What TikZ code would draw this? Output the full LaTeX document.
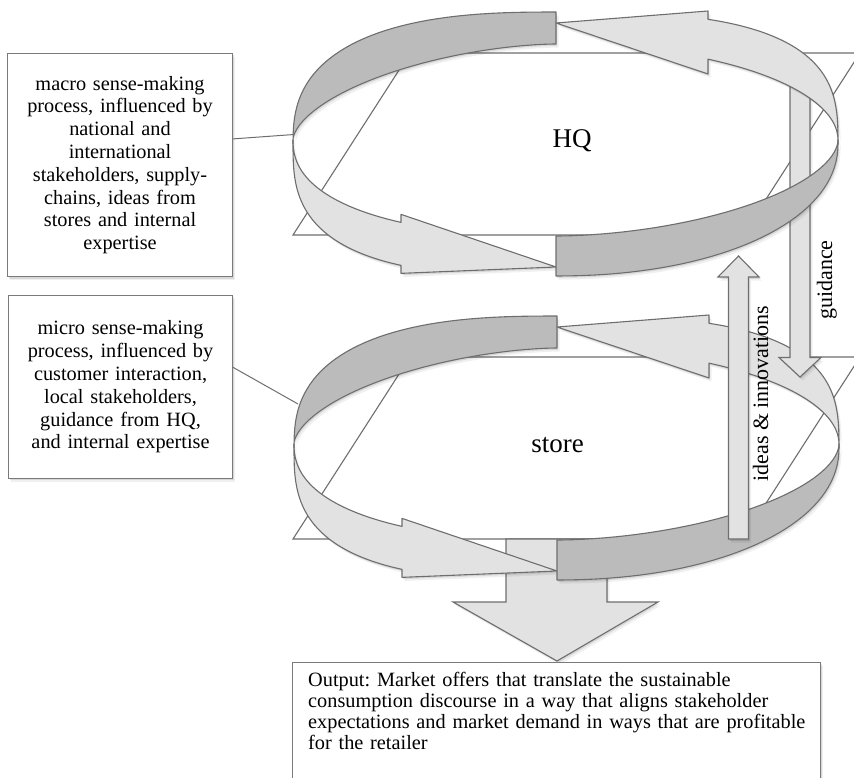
\documentclass[tikz,border=0pt]{standalone}
\usepackage{fontspec}
\setmainfont{Liberation Serif}
\usetikzlibrary{shadows}
\frenchspacing
\definecolor{lightf}{HTML}{E2E2E2}
\definecolor{darkf}{HTML}{BBBBBB}
\definecolor{edge}{HTML}{6E6E6E}
\definecolor{boxc}{HTML}{7A7A7A}
\newcommand\ringbody{%
  % back, left part (dark)
  \filldraw[band,fill=darkf]
    plot[pl,domain=90:180] ({556+263*sp(cos(\t),0.769)},{144-132*sp(sin(\t),0.769)})
    -- plot[pl,domain=180:90] ({556+263*sp(cos(\t),1.176)},{140-96*sp(sin(\t),1.176)}) -- cycle;
  % back, right part with head (light)
  \filldraw[band,fill=lightf]
    plot[pl,domain=0:\tBo] ({556+282*sp(cos(\t),0.667)},{144-132*sp(sin(\t),0.667)})
    -- (708,11) -- (556,23) -- (708,74)
    -- plot[pl,domain=\tBi:0] ({556+282*sp(cos(\t),1)},{140-96*sp(sin(\t),1)}) -- cycle;
  % front, left part with head (light)
  \filldraw[band,fill=lightf]
    plot[pl,domain=180:\tAo] ({556+263*sp(cos(\t),0.690)},{144-132*sp(sin(\t),0.690)})
    -- (401,\yAo+8) -- (556,267) -- (401,\yAi-8)
    -- plot[pl,domain=\tAi:180] ({556+263*sp(cos(\t),0.87)},{140-96*sp(sin(\t),0.87)}) -- cycle;
  % front, right part (dark)
  \filldraw[band,fill=darkf]
    plot[pl,domain=270:360] ({556+282*sp(cos(\t),0.952)},{144-132*sp(sin(\t),0.952)})
    -- plot[pl,domain=360:270] ({556+282*sp(cos(\t),1.111)},{140-96*sp(sin(\t),1.111)}) -- cycle;
}
\begin{document}
\begin{tikzpicture}[x=1pt,y=-1pt,
  declare function={sp(\argc,\argp)=\argc*pow(abs(\argc)+0.0001,\argp-1);},
  pl/.style={samples=40,variable=\t},
  soft/.style={drop shadow={shadow xshift=1.2pt,shadow yshift=-1.8pt,opacity=0.10,fill=black},
               drop shadow={shadow xshift=2.6pt,shadow yshift=-3.6pt,opacity=0.06,fill=black}},
  band/.style={draw=edge,line width=1.1pt,line join=round,soft},
  para/.style={draw=edge,fill=white,line width=1.1pt,line join=miter},
  blk/.style={draw=edge,fill=lightf,line width=1.1pt,line join=miter,soft},
  tbox/.style={draw=boxc,fill=white,line width=1pt,soft},
  conn/.style={draw=edge,line width=1pt},
  boxfont/.style={font=\fontsize{20.3}{22.8}\selectfont},
  labfont/.style={font=\fontsize{22}{26}\selectfont},
  bigfont/.style={font=\fontsize{27}{30}\selectfont}]
\useasboundingbox (0,0) rectangle (854,778);
\clip (0,0) rectangle (854,778);
\pgfmathsetmacro\tAo{180+acos(pow(155/263,1/0.690))}
\pgfmathsetmacro\tAi{180+acos(pow(155/263,1/0.87))}
\pgfmathsetmacro\tBo{acos(pow(152/282,1/0.667))}
\pgfmathsetmacro\tBi{acos(152/282)}
\pgfmathsetmacro\yAo{144-132*sp(sin(\tAo),0.690)}
\pgfmathsetmacro\yAi{140-96*sp(sin(\tAi),0.87)}

% planes
\filldraw[para] (293,235) -- (410,53) -- (860,53) -- (743,235) -- cycle;
\filldraw[para] (293,539) -- (410,357) -- (860,357) -- (743,539) -- cycle;

% output arrow (behind the store ring)
\filldraw[blk] (506,539) -- (607,539) -- (607,602) -- (658,602) -- (557,661) -- (453,602) -- (506,602) -- cycle;

% boxes on the left
\node[tbox,boxfont,anchor=north west,minimum width=224.5pt,minimum height=223.5pt,
      text width=215pt,align=center,inner sep=0pt] (macro) at (7.3,52.7)
  {macro sense-making\\process, influenced by\\national and\\international\\stakeholders, supply-\\chains, ideas from\\stores and internal\\expertise};
\node[tbox,boxfont,anchor=north west,minimum width=223.5pt,minimum height=183pt,
      text width=215pt,align=center,inner sep=0pt] (micro) at (8.3,295)
  {micro sense-making\\process, influenced by\\customer interaction,\\local stakeholders,\\guidance from HQ,\\and internal expertise};

\coordinate (hqL) at (294,134.5);
\coordinate (stL) at (298,404);
\draw[conn] (macro.13.7) -- (hqL);
\draw[conn] (micro.10.9) -- (stL);

% store ring
\begin{scope}[shift={(1,304)}]
  \ringbody
\end{scope}

% guidance arrow
\filldraw[blk] (790,80) -- (810,80) -- (810,357.5) -- (821,357.5) -- (800,377) -- (779,357.5) -- (790,357.5) -- cycle;

% HQ ring
\ringbody

% ideas arrow
\filldraw[blk] (728.5,539) -- (728.5,277) -- (718,277) -- (738.5,256) -- (759,277) -- (748.5,277) -- (748.5,539) -- cycle;

% texts
\node[bigfont,anchor=base] (hq) at (572,148) {HQ};
\node[bigfont,anchor=base] (store) at (557.5,452) {store};
\node[labfont,rotate=90,anchor=base] (guid) at (832,280) {guidance};
\node[labfont,rotate=90,anchor=base] (ideas) at (768,393.5) {ideas \& innovations};

% output box
\node[tbox,anchor=north west,minimum width=528pt,minimum height=140pt,inner sep=0pt] (outbox) at (292,662) {};
\node[anchor=north west,inner sep=0pt,text width=505pt,align=left,
      font=\fontsize{20.3}{21}\selectfont] (outtext) at (308,672)
  {Output: Market offers that translate the sustainable\\consumption discourse in a way that aligns stakeholder\\expectations and market demand in ways that are profitable\\for the retailer};
\end{tikzpicture}
\end{document}
